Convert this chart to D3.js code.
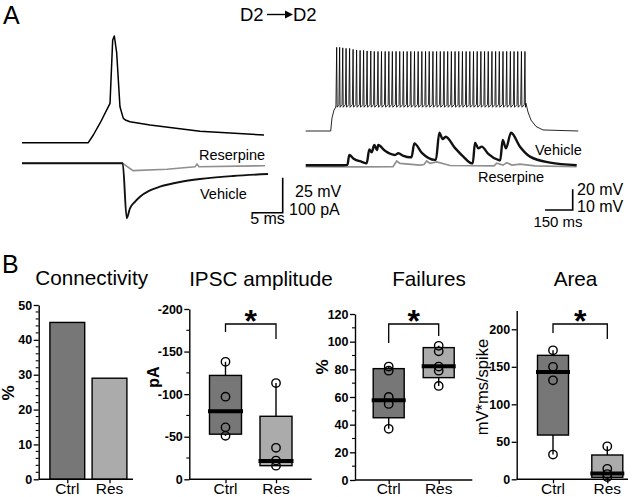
<!DOCTYPE html>
<html><head><meta charset="utf-8">
<script src="https://cdn.jsdelivr.net/npm/d3@7"></script>
<style>body{margin:0;background:#fff} svg{display:block} text{font-family:"Liberation Sans",Arial,sans-serif}</style>
</head><body><svg id="c" width="640" height="497"></svg>
<script>
// ---------- DATA ----------
// Panel A left: single presynaptic action potential (ms, mV above rest)
const apT = [0, 10.92, 11.75, 12.85, 14.50, 14.94, 15.21, 15.60, 16.14, 16.69, 17.13, 17.79, 21.09, 29.32, 39.87];
const apV = [0, 0, 5.5, 13.9, 28.1, 73.4, 76.2, 64.1, 25.7, 17.4, 16.0, 15.0, 12.6, 8.1, 5.5];
// uIPSC (pA) - Vehicle and Reserpine
const ipscVehT = [0, 16.59, 17.25, 17.79, 18.6, 19.44, 21.0, 22.73, 26.03, 29.32, 34.76, 40.53];
const ipscVehI = [0, 0, -157, -128.6, -110, -95.4, -78, -66.9, -53.4, -44.9, -36.3, -30.6];
const ipscResT = [0, 16.59, 18.29, 23.89, 28.5, 28.83, 29.16, 40.03];
const ipscResI = [0, 0, -21, -17, -10, -2, -10, -7];
// Panel A right: spike train (ms, mV)
const trainPreT = [0, 135.6, 142.6, 153.5, 163];
const trainPreV = [-80, -80, -67.4, -59.7, -56.8];
const spikeT = [168,184,201,219,238,257,276,295,314,333,353,372,392,411,431,451,470,490,510,530,550,570,590,610,630,650,670,690,710,730,750,770,790,810,830,850,870,890,910,930,950,970,990,1010,1030,1050,1070,1090,1110,1130,1150,1170,1189];
const spikePeak = [1,1,0.5,0,0,-1,-1.5,-2,-2,-2.5,-2.5,-3,-3,-3,-3,-3,-3,-3,-3,-3,-3,-3,-3,-3,-3,-3,-3,-3,-3,-3,-3,-3,-3,-3,-3,-3,-3,-3,-3,-3,-3,-3,-3,-3,-3,-3,-3,-3,-3,-3,-3,-3,-3];
const spikeTrough = -54.5, spikeAhp = -57;
const trainPostT = [1194, 1205.5, 1221.7, 1248.9, 1286.8, 1478];
const trainPostV = [-53, -61.6, -69.4, -75.6, -79, -80];
// postsynaptic responses (mV)
const psVehT = [0, 203.9, 226, 236.4, 260, 303.7, 330.8, 344.9, 357.9, 372, 386.7, 393.7, 430, 484.3, 502.2, 530, 565.6, 573.8, 588.9, 630, 701.2, 706, 724.5, 743, 759.2, 809, 854.7, 900.2, 906, 918.1, 936, 954.4, 990, 1044.5, 1054.8, 1068.3, 1086.2, 1113.3, 1162.1, 1216.4, 1324.8, 1469.6];
const psVehV = [0, 0, 0.2, 5, 3.2, 1.7, 1.0, 7.7, 6.3, 9.8, 7.4, 9.8, 7.0, 5.0, 5.8, 4.6, 3.9, 3.9, 10.6, 6.0, 2.6, 2.6, 15.7, 12.7, 13.8, 8.4, 4.2, 1.0, 1.0, 10.9, 8.2, 9.0, 5.5, 2.6, 2.4, 12.2, 8.2, 15.7, 9.0, 4.2, 1.3, 0.1];
const psResT = [0, 294.5, 473.4, 493.5, 511.4, 619.8, 641.5, 656.2, 674, 710.4, 782.5, 1021.1, 1035.8, 1070, 1090, 1118.5, 1162.1, 1243.5, 1469.6];
const psResV = [-0.7, -0.8, -0.7, 2.1, 0.9, 0.1, 0.4, 2.1, 0.9, 1.6, -0.1, -0.3, 1.0, 0.1, 1.3, 0.1, 0.6, -0.3, -0.7];

// Panel B
const groups = ["Ctrl", "Res"];
const connectivity = [45, 29];
const ipscCtrl = [-138, -97, -61, -51];
const ipscRes = [-113, -37, -22, -16];
const ipscLower = [-53, -16], ipscMedian = [-80, -21.5], ipscUpper = [-122, -74];
const failCtrl = [82, 79, 60, 55, 37];
const failRes = [97, 93, 82, 79, 68];
const failLower = [45, 74], failMedian = [57.6, 82.2], failUpper = [80.5, 95.7];
const areaCtrl = [172, 150, 132, 33];
const areaRes = [44, 14, 7, 3];
const areaLower = [59, 2.7], areaMedian = [143, 7.6], areaUpper = [165.3, 32.4];
const connTicks = [0, 10, 20, 30, 40, 50];
const ipscTicks = [0, -50, -100, -150, -200];
const failTicks = [0, 20, 40, 60, 80, 100, 120];
const areaTicks = [0, 50, 100, 150, 200];

// ---------- DRAW ----------
const svg = d3.select("#c");
const fillC = "#777777", fillR = "#ababab";

svg.append("text").attr("x", 3).attr("y", 23.5).attr("font-size", 25).text("A");
svg.append("text").attr("x", 2).attr("y", 273).attr("font-size", 25).text("B");
// D2 -> D2
svg.append("text").attr("x", 240).attr("y", 21).attr("font-size", 18.5).text("D2");
svg.append("text").attr("x", 293).attr("y", 21).attr("font-size", 18.5).text("D2");
svg.append("line").attr("x1", 267).attr("x2", 286).attr("y1", 14.5).attr("y2", 14.5).attr("stroke", "#000").attr("stroke-width", 1.4);
svg.append("path").attr("d", "M285,10.5L293,14.5L285,18.5Z").attr("fill", "#000");

// left traces
const xL = d3.scaleLinear().domain([0, 40]).range([22, 22 + 40 * 6.07]);
const yAP = d3.scaleLinear().domain([0, 80]).range([142.7, 142.7 - 80 * 1.4]);
const yI = d3.scaleLinear().domain([0, -160]).range([163.3, 163.3 + 160 * 0.35]);
const lineL = (ys) => d3.line().x(d => xL(d[0])).y(d => ys(d[1]));
svg.append("path").attr("d", lineL(yAP)(d3.zip(apT, apV))).attr("fill", "none").attr("stroke", "#000").attr("stroke-width", 1.5).attr("stroke-linejoin", "round");
svg.append("path").attr("d", lineL(yI)(d3.zip(ipscResT, ipscResI))).attr("fill", "none").attr("stroke", "#8f8f8f").attr("stroke-width", 1.6);
svg.append("path").attr("d", lineL(yI).curve(d3.curveMonotoneX)(d3.zip(ipscVehT, ipscVehI))).attr("fill", "none").attr("stroke", "#111").attr("stroke-width", 1.9);
svg.append("text").attr("x", 199).attr("y", 160).attr("font-size", 14.5).text("Reserpine");
svg.append("text").attr("x", 200).attr("y", 199).attr("font-size", 14.5).text("Vehicle");
// scale bar left
{
  const cx = 282.7, cy = 212.7;
  const h = yAP(0) - yAP(25), w = xL(5) - xL(0);
  svg.append("path").attr("d", `M${cx - w},${cy}H${cx}V${cy - h}`).attr("fill", "none").attr("stroke", "#000").attr("stroke-width", 1.6);
  svg.append("text").attr("x", 295).attr("y", 197).attr("font-size", 16).text("25 mV");
  svg.append("text").attr("x", 289).attr("y", 215).attr("font-size", 16).text("100 pA");
  svg.append("text").attr("x", cx - w / 2).attr("y", 224).attr("font-size", 16).attr("text-anchor", "middle").text("5 ms");
}

// right traces
const xR = d3.scaleLinear().domain([0, 1500]).range([305.7, 305.7 + 1500 * 0.1844]);
const yTop = d3.scaleLinear().domain([-80, 0]).range([131, 131 - 80 * 1.033]);
const yBot = d3.scaleLinear().domain([0, 20]).range([165.3, 165.3 - 20 * 2.07]);
const trainPts = d3.zip(trainPreT, trainPreV);
spikeT.forEach((t, i) => { trainPts.push([t - 4, spikeTrough], [t, spikePeak[i]], [t + 2.5, spikeAhp]); });
d3.zip(trainPostT, trainPostV).forEach(p => trainPts.push(p));
svg.append("path").attr("d", d3.line().x(d => xR(d[0])).y(d => yTop(d[1]))(trainPts)).attr("fill", "none").attr("stroke", "#000").attr("stroke-width", 0.85);
const lineR = d3.line().x(d => xR(d[0])).y(d => yBot(d[1]));
svg.append("path").attr("d", lineR(d3.zip(psResT, psResV))).attr("fill", "none").attr("stroke", "#8f8f8f").attr("stroke-width", 1.7);
svg.append("path").attr("d", lineR.curve(d3.curveMonotoneX)(d3.zip(psVehT, psVehV))).attr("fill", "none").attr("stroke", "#111").attr("stroke-width", 2.4).attr("stroke-linejoin", "round");
svg.append("text").attr("x", 535).attr("y", 155).attr("font-size", 14.5).text("Vehicle");
svg.append("text").attr("x", 478).attr("y", 182).attr("font-size", 14.5).text("Reserpine");
{
  const cx = 572.7, cy = 210;
  const h = yTop(0) - yTop(20), w = xR(150) - xR(0);
  svg.append("path").attr("d", `M${cx - w},${cy}H${cx}V${cy - h}`).attr("fill", "none").attr("stroke", "#000").attr("stroke-width", 1.6);
  svg.append("text").attr("x", 577).attr("y", 195).attr("font-size", 16).text("20 mV");
  svg.append("text").attr("x", 577).attr("y", 211.7).attr("font-size", 16).text("10 mV");
  svg.append("text").attr("x", 558).attr("y", 227).attr("font-size", 15).attr("text-anchor", "middle").text("150 ms");
}

// ---------- Panel B helpers ----------
function yAxis(scale, x, majors, minorStep, fmt) {
  const g = svg.append("g").attr("transform", `translate(${x},0)`)
    .call(d3.axisLeft(scale).tickValues(majors).tickSize(5).tickSizeOuter(0).tickPadding(1.5).tickFormat(fmt || (d => String(d))));
  g.select(".domain").attr("stroke-width", 1.4);
  g.selectAll(".tick line").attr("stroke-width", 1.3);
  g.selectAll(".tick text").attr("font-size", 12.5).attr("font-weight", "bold").attr("font-family", '"Liberation Sans",Arial,sans-serif');
  if (minorStep) {
    const d = scale.domain();
    const lo = Math.min(d[0], d[1]), hi = Math.max(d[0], d[1]);
    const vals = d3.range(lo, hi + 1e-9, Math.abs(minorStep)).filter(v => !majors.includes(v));
    g.selectAll(".minor").data(vals).join("line").attr("x1", -3).attr("x2", 0)
      .attr("y1", v => scale(v)).attr("y2", v => scale(v)).attr("stroke", "#000").attr("stroke-width", 1.1);
  }
}
function xAxis(xPos, y, x0, x1) {
  svg.append("line").attr("x1", x0).attr("x2", x1).attr("y1", y).attr("y2", y).attr("stroke", "#000").attr("stroke-width", 1.4);
  const g = svg.append("g").attr("transform", `translate(0,${y})`)
    .call(d3.axisBottom(xPos).tickSize(4).tickSizeOuter(0).tickPadding(0).tickFormat(() => ""));
  g.select(".domain").remove();
  g.selectAll(".tick line").attr("stroke-width", 1.3);
  groups.forEach(gr => svg.append("text").attr("x", xPos(gr)).attr("y", 493.5).attr("text-anchor", "middle").attr("font-size", 15.5).text(gr));
}
function title(x, y, t) { svg.append("text").attr("x", x).attr("y", y).attr("text-anchor", "middle").attr("font-size", 20.7).text(t); }
function ylabel(x, y, t, bold, size) {
  svg.append("text").attr("transform", `translate(${x},${y}) rotate(-90)`).attr("text-anchor", "middle")
    .attr("font-size", size).attr("font-weight", bold ? "bold" : "normal").text(t);
}
function boxes(xPos, yS, w, lower, median, upper, pts) {
  groups.forEach((gr, i) => {
    const c = xPos(gr);
    const ext = d3.extent(pts[i]);
    const col = i === 0 ? fillC : fillR;
    svg.append("line").attr("x1", c).attr("x2", c).attr("y1", yS(ext[0])).attr("y2", yS(ext[1])).attr("stroke", "#000").attr("stroke-width", 1.4);
    const yA = yS(upper[i]), yB = yS(lower[i]);
    svg.append("rect").attr("x", c - w / 2).attr("width", w).attr("y", Math.min(yA, yB)).attr("height", Math.abs(yB - yA))
      .attr("fill", col).attr("stroke", "#000").attr("stroke-width", 1.4);
    svg.append("line").attr("x1", c - w / 2 - 1.5).attr("x2", c + w / 2 + 1.5).attr("y1", yS(median[i])).attr("y2", yS(median[i])).attr("stroke", "#000").attr("stroke-width", 4);
    svg.selectAll(null).data(pts[i]).join("circle").attr("cx", c).attr("cy", d => yS(d)).attr("r", 4.2)
      .attr("fill", "none").attr("stroke", "#000").attr("stroke-width", 1.4);
  });
}
function bracket(xPos, top, leftEnd, rightEnd) {
  const a = xPos("Ctrl"), b = xPos("Res");
  svg.append("path").attr("d", `M${a},${leftEnd}V${top}H${b}V${rightEnd}`).attr("fill", "none").attr("stroke", "#000").attr("stroke-width", 1.3);
  svg.append("text").attr("x", (a + b) / 2).attr("y", top + 8).attr("text-anchor", "middle").attr("font-size", 32).attr("font-weight", "bold").text("*");
}

// Panel B1: Connectivity
{
  const ax = 38.7;
  const y = d3.scaleLinear().domain([0, 50]).range([479.3, 305]);
  const x = d3.scalePoint().domain(groups).range([67.3, 109.5]);
  groups.forEach((g, i) => svg.append("rect").attr("x", x(g) - 17.4).attr("width", 34.8)
    .attr("y", y(connectivity[i])).attr("height", y(0) - y(connectivity[i]))
    .attr("fill", i === 0 ? fillC : fillR).attr("stroke", "#000").attr("stroke-width", 1.4));
  yAxis(y, ax, connTicks, 2);
  xAxis(x, 479.3, ax, 133);
  title(91.7, 285, "Connectivity");
  ylabel(14, 393, "%", true, 17);
}
// Panel B2: IPSC amplitude
{
  const ax = 189.3;
  const y = d3.scaleLinear().domain([0, -200]).range([479.3, 309]);
  const x = d3.scalePoint().domain(groups).range([225.5, 276]);
  yAxis(y, ax, ipscTicks, 25);
  boxes(x, y, 32, ipscLower, ipscMedian, ipscUpper, [ipscCtrl, ipscRes]);
  xAxis(x, 479.3, ax, 311.7);
  bracket(x, 324, 332, 339);
  title(261, 286, "IPSC amplitude");
  ylabel(159, 377, "pA", true, 16);
}
// Panel B3: Failures
{
  const ax = 355;
  const y = d3.scaleLinear().domain([0, 120]).range([480, 314]);
  const x = d3.scalePoint().domain(groups).range([388.7, 438.7]);
  yAxis(y, ax, failTicks, 10);
  boxes(x, y, 31, failLower, failMedian, failUpper, [failCtrl, failRes]);
  xAxis(x, 480, ax, 472.3);
  bracket(x, 324, 343, 336);
  title(429, 286, "Failures");
  ylabel(328, 367, "%", true, 17);
}
// Panel B4: Area
{
  const ax = 516.7;
  const y = d3.scaleLinear().domain([0, 225]).range([479.3, 479.3 - 225 * 0.75]);
  const x = d3.scalePoint().domain(groups).range([553, 607.3]);
  yAxis(y, ax, areaTicks, null);
  boxes(x, y, 31, areaLower, areaMedian, areaUpper, [areaCtrl, areaRes]);
  xAxis(x, 479.3, ax, 628);
  bracket(x, 324, 333, 339);
  title(575.5, 286, "Area");
  ylabel(488, 387, "mV*ms/spike", false, 16.5);
}
</script></body></html>
